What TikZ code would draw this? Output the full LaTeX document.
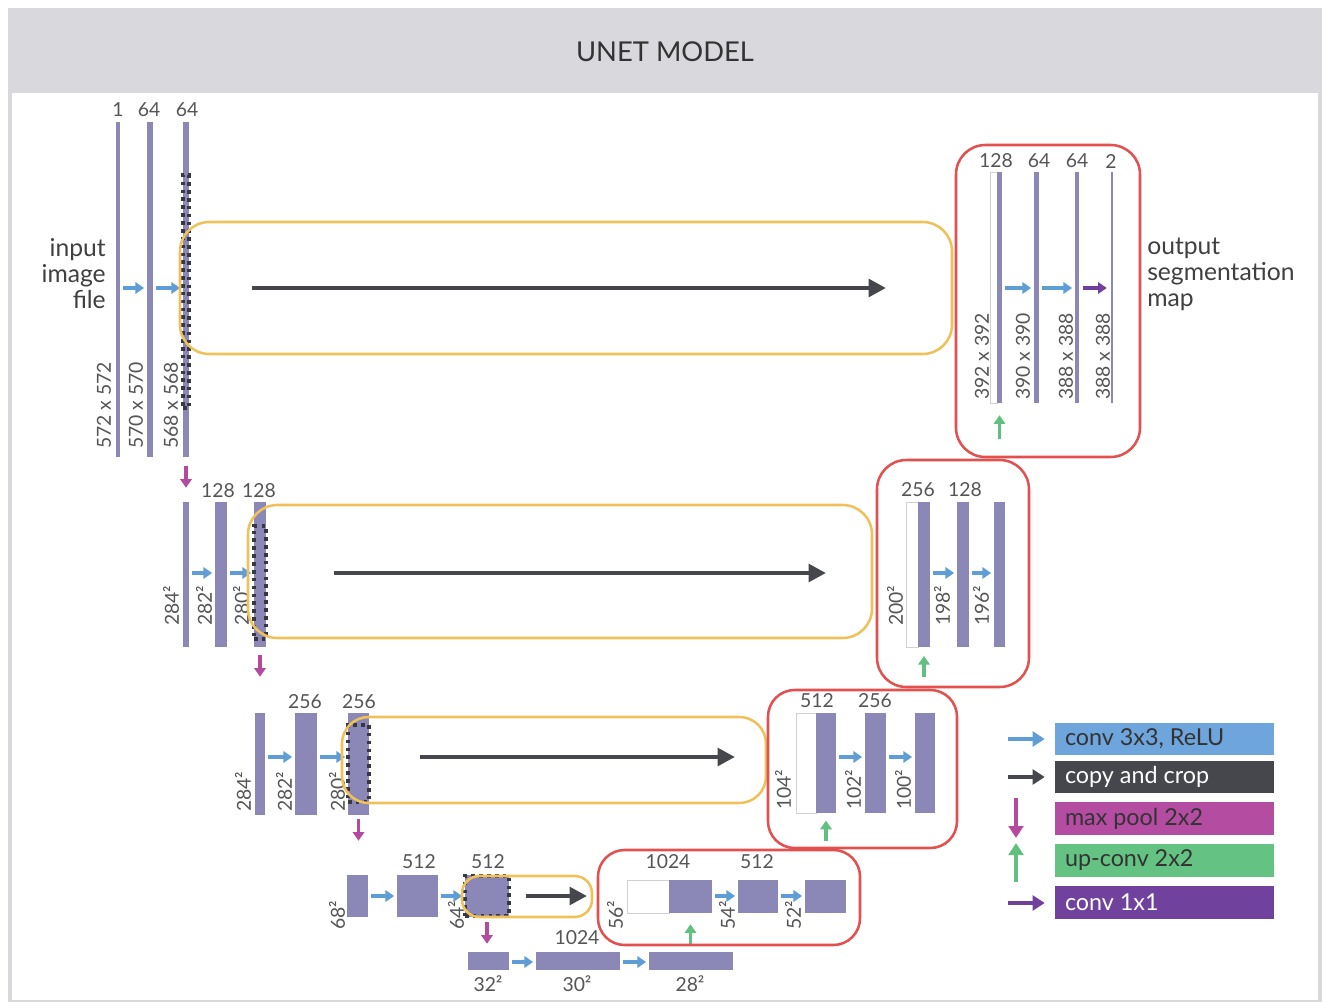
\documentclass[tikz,border=0pt]{standalone}
\usepackage{fontspec}
\setmainfont{Lato}
\usetikzlibrary{arrows.meta,fit,calc}
\definecolor{barc}{RGB}{139,136,184}
\definecolor{convc}{RGB}{95,157,214}
\definecolor{copyc}{RGB}{70,71,77}
\definecolor{poolc}{RGB}{180,73,160}
\definecolor{upc}{RGB}{96,192,128}
\definecolor{onec}{RGB}{112,64,156}
\definecolor{yelc}{RGB}{240,193,90}
\definecolor{redc}{RGB}{226,80,80}
\definecolor{hdrc}{RGB}{216,216,221}
\definecolor{txtc}{RGB}{85,85,85}
\definecolor{lgblue}{RGB}{110,165,220}
\definecolor{lgdark}{RGB}{70,71,76}
\definecolor{lgpink}{RGB}{180,76,162}
\definecolor{lggreen}{RGB}{100,195,130}
\definecolor{lgpurple}{RGB}{112,66,158}
\definecolor{dotc}{RGB}{55,56,66}
\tikzset{
  blk/.style={fill=barc, draw=none, inner sep=0pt, rectangle},
  wblk/.style={fill=white, draw=black!18, line width=0.5pt, inner sep=0pt, rectangle},
  yb/.style={draw=yelc, line width=1.9pt, rounded corners=#1, inner sep=0pt, rectangle},
  rb/.style={draw=redc, line width=1.9pt, rounded corners=#1, inner sep=0pt, rectangle},
  dotbox/.style={draw=dotc, line width=2.7pt, dash pattern=on 2.7pt off 3.2pt, inner sep=0pt, rectangle},
  sarrow/.style={line width=2.6pt, -{Triangle[length=6.5pt,width=8.5pt]}},
  conv/.style={sarrow, draw=convc, shorten <=2pt, shorten >=2pt},
  onex/.style={sarrow, draw=onec, shorten <=3pt, shorten >=3pt},
  pool/.style={sarrow, draw=poolc},
  upconv/.style={sarrow, draw=upc},
  copyar/.style={draw=copyc, line width=3.4pt, -{Triangle[length=13pt,width=13pt]}},
  lgar/.style={line width=3.6pt, -{Triangle[length=9pt,width=11pt]}},
  lbl/.style={text=txtc, font=\fontsize{14.5}{16}\selectfont, inner sep=0pt},
  rl/.style={lbl, rotate=90, anchor=west},
  big/.style={text=black!75, font=\fontsize{18.5}{19.5}\selectfont, inner sep=0pt},
  title/.style={text=black!80, font=\fontsize{20.5}{22}\selectfont, inner sep=0pt},
  legbox/.style={draw=none, inner sep=0pt, rectangle},
  legtxt/.style={font=\fontsize{17.5}{18}\selectfont, inner sep=0pt, anchor=west}
}
\newcommand\Blk[5]{\node[blk, fit={(#2,#4) (#3,#5)}] (#1) {};}
\newcommand\Wblk[5]{\node[wblk, fit={(#2,#4) (#3,#5)}] (#1) {};}
\newcommand\Dots[5]{\node[dotbox, fit={(#2,#4) (#3,#5)}] (#1) {};}
\begin{document}
\begin{tikzpicture}[x=0.75pt,y=-0.75pt]
\path[use as bounding box] (0,0) rectangle (1322,1002);
\fill[white] (0,0) rectangle (1322,1002);
\fill[hdrc] (8,8) rectangle (1322,1002);
\fill[white] (12,93) rectangle (1318,1000);
\node[title] (title) at (665,52) {UNET MODEL};

% ---------------- Level 1 encoder
\Blk{e1a}{116}{120}{122}{457}
\Blk{e1b}{147}{153}{122}{457}
\Blk{e1c}{183}{189}{122}{457}
\node[lbl] (t1a) at (118,110) {1};
\node[lbl] (t1b) at (149,110) {64};
\node[lbl] (t1c) at (187,110) {64};
\node[rl] (s1a) at (104,449) {572 x 572};
\node[rl] (s1b) at (136,449) {570 x 570};
\node[rl] (s1c) at (171,449) {568 x 568};
\node[big, align=right, anchor=east] (inp) at (106,274) {input\\image\\file};
\coordinate (r1) at (0,288);
\draw[conv] (e1a.east |- r1) -- (e1b.west |- r1);
\draw[conv] (e1b.east |- r1) -- (e1c.west |- r1);

% ---------------- Level 1 decoder
\Wblk{w1}{990}{997}{172}{403}
\Blk{d1a}{997}{1002}{172}{403}
\Blk{d1b}{1034}{1039}{172}{403}
\Blk{d1c}{1075}{1079}{172}{403}
\Blk{d1d}{1111}{1113}{172}{403}
\node[lbl] (u1a) at (996,161) {128};
\node[lbl] (u1b) at (1039,161) {64};
\node[lbl] (u1c) at (1077,161) {64};
\node[lbl] (u1d) at (1111,161) {2};
\node[rl] (v1a) at (982,400) {392 x 392};
\node[rl] (v1b) at (1023,400) {390 x 390};
\node[rl] (v1c) at (1066,400) {388 x 388};
\node[rl] (v1d) at (1103,400) {388 x 388};
\draw[conv] (d1a.east |- r1) -- (d1b.west |- r1);
\draw[conv] (d1b.east |- r1) -- (d1c.west |- r1);
\draw[onex] (d1c.east |- r1) -- (d1d.west |- r1);
\coordinate (g1) at ($(d1a.south)+(0,36)$);
\draw[upconv, shorten >=9pt] (g1) -- (d1a.south);
\node[big, align=left, anchor=west] (outp) at (1147,274) {output\\segmentation\\map};

% ---------------- Level 2 encoder
\Blk{e2a}{183}{189}{502}{647}
\Blk{e2b}{215}{227}{502}{647}
\Blk{e2c}{254}{266}{502}{647}
\node[lbl] (t2b) at (218,491) {128};
\node[lbl] (t2c) at (259,491) {128};
\node[rl] (s2a) at (171,626) {284²};
\node[rl] (s2b) at (204,626) {282²};
\node[rl] (s2c) at (241,626) {280²};
\coordinate (r2) at (0,573);
\draw[conv] (e2a.east |- r2) -- (e2b.west |- r2);
\draw[conv] (e2b.east |- r2) -- (e2c.west |- r2);
\draw[pool, shorten <=6.75pt, shorten >=10.5pt] (e1c.south) -- (e1c.south |- e2a.north);

% ---------------- Level 2 decoder
\Wblk{w2}{906}{918}{502}{647}
\Blk{d2a}{918}{930}{502}{647}
\Blk{d2b}{957}{969}{502}{647}
\Blk{d2c}{994}{1005}{502}{647}
\node[lbl] (u2a) at (918,490) {256};
\node[lbl] (u2b) at (965,490) {128};
\node[rl] (v2a) at (895,626) {200²};
\node[rl] (v2b) at (942,626) {198²};
\node[rl] (v2c) at (981,626) {196²};
\draw[conv] (d2a.east |- r2) -- (d2b.west |- r2);
\draw[conv] (d2b.east |- r2) -- (d2c.west |- r2);
\coordinate (g2) at ($(d2a.south)+(0,30)$);
\draw[upconv, shorten >=6.5pt] (g2) -- (d2a.south);

% ---------------- Level 3 encoder
\Blk{e3a}{255}{265}{713}{815}
\Blk{e3b}{295}{317}{713}{815}
\Blk{e3c}{348}{369}{713}{815}
\node[lbl] (t3b) at (305,702) {256};
\node[lbl] (t3c) at (359,702) {256};
\node[rl] (s3a) at (243,812) {284²};
\node[rl] (s3b) at (284,812) {282²};
\node[rl] (s3c) at (337,812) {280²};
\coordinate (r3) at (0,757);
\draw[conv] (e3a.east |- r3) -- (e3b.west |- r3);
\draw[conv] (e3b.east |- r3) -- (e3c.west |- r3);
\draw[pool, shorten <=6pt, shorten >=27pt] (e2c.south) -- (e2c.south |- e3a.north);

% ---------------- Level 3 decoder
\Wblk{w3}{796}{816}{713}{813}
\Blk{d3a}{816}{836}{713}{813}
\Blk{d3b}{865}{886}{713}{813}
\Blk{d3c}{915}{935}{713}{813}
\node[lbl] (u3a) at (817,701) {512};
\node[lbl] (u3b) at (875,701) {256};
\node[rl] (v3a) at (783,810) {104²};
\node[rl] (v3b) at (853,810) {102²};
\node[rl] (v3c) at (903,810) {100²};
\draw[conv] (d3a.east |- r3) -- (d3b.west |- r3);
\draw[conv] (d3b.east |- r3) -- (d3c.west |- r3);
\coordinate (g3) at ($(d3a.south)+(0,28)$);
\draw[upconv, shorten >=5.5pt] (g3) -- (d3a.south);

% ---------------- Level 4 encoder
\Blk{e4a}{347}{368}{875}{917}
\Blk{e4b}{397}{438}{875}{917}
\Blk{e4c}{465}{509}{875}{917}
\node[lbl] (t4b) at (419,862) {512};
\node[lbl] (t4c) at (488,862) {512};
\node[rl] (s4a) at (337,930) {68²};
\node[rl] (s4c) at (456,930) {64²};
\coordinate (r4) at (0,896);
\draw[conv] (e4a.east |- r4) -- (e4b.west |- r4);
\draw[conv] (e4b.east |- r4) -- (e4c.west |- r4);
\draw[pool, shorten <=3pt, shorten >=25.5pt] (e3c.south) -- (e3c.south |- e4a.north);

% ---------------- Level 4 decoder
\Wblk{w4}{627}{669}{880}{913}
\Blk{d4a}{669}{712}{880}{913}
\Blk{d4b}{738}{778}{880}{913}
\Blk{d4c}{805}{846}{880}{913}
\node[lbl] (u4a) at (668,862) {1024};
\node[lbl] (u4b) at (757,862) {512};
\node[rl] (v4a) at (615,930) {56²};
\node[rl] (v4b) at (727,930) {54²};
\node[rl] (v4c) at (793,930) {52²};
\draw[conv] (d4a.east |- r4) -- (d4b.west |- r4);
\draw[conv] (d4b.east |- r4) -- (d4c.west |- r4);

% ---------------- Level 5 (bottom)
\Blk{e5a}{468}{509}{952}{970}
\Blk{e5b}{536}{620}{952}{970}
\Blk{e5c}{649}{733}{952}{970}
\node[lbl] (t5b) at (577,938) {1024};
\node[lbl] (b5a) at (488,984) {32²};
\node[lbl] (b5b) at (577,984) {30²};
\node[lbl] (b5c) at (690,984) {28²};
\coordinate (r5) at (0,962);
\draw[conv] (e5a.east |- r5) -- (e5b.west |- r5);
\draw[conv] (e5b.east |- r5) -- (e5c.west |- r5);
\draw[pool, shorten <=3.75pt, shorten >=6pt] (e4c.south) -- (e4c.south |- e5a.north);
\draw[upconv, shorten <=6pt, shorten >=8.25pt] (d4a.south |- e5c.north) -- (d4a.south);

% ---------------- dotted crop outlines
\Dots{dt1}{183}{189}{175}{408}
\Dots{dt2}{254}{266}{526}{639}
\Dots{dt3}{348}{369}{725}{802}
\Dots{dt4}{465}{509}{876}{916}

% ---------------- copy-and-crop boxes
\node[yb=22pt, fit={(180,222) (952,354)}] (y1) {};
\node[yb=22pt, fit={(248,505) (872,638)}] (y2) {};
\node[yb=20pt, fit={(342,717) (766,803)}] (y3) {};
\node[yb=13pt, fit={(462,876) (592,917)}] (y4) {};
\coordinate (c1s) at (252,288); \coordinate (c1e) at (886,288);
\coordinate (c2s) at (334,573); \coordinate (c2e) at (826,573);
\coordinate (c3s) at (420,757); \coordinate (c3e) at (735,757);
\coordinate (c4s) at (526,896); \coordinate (c4e) at (587,896);
\draw[copyar] (c1s) -- (c1e);
\draw[copyar] (c2s) -- (c2e);
\draw[copyar] (c3s) -- (c3e);
\draw[copyar] (c4s) -- (c4e);

% ---------------- decoder boxes
\node[rb=22pt, fit={(956,145) (1140,457)}] (rb1) {};
\node[rb=22pt, fit={(877,460) (1029,687)}] (rb2) {};
\node[rb=20pt, fit={(768,690) (957,848)}] (rb3) {};
\node[rb=20pt, fit={(598,850) (860,945)}] (rb4) {};

% ---------------- legend
\node[legbox, fill=lgblue, fit={(1055,723) (1274,755)}] (lg1) {};
\node[legbox, fill=lgdark, fit={(1055,761) (1274,793)}] (lg2) {};
\node[legbox, fill=lgpink, fit={(1055,802) (1274,835)}] (lg3) {};
\node[legbox, fill=lggreen, fit={(1055,844) (1274,877)}] (lg4) {};
\node[legbox, fill=lgpurple, fit={(1055,886) (1274,919)}] (lg5) {};
\node[legtxt, text=black!80] (lt1) at ($(lg1.west)+(10,0)$) {conv 3x3, ReLU};
\node[legtxt, text=white] (lt2) at ($(lg2.west)+(10,0)$) {copy and crop};
\node[legtxt, text=black!80] (lt3) at ($(lg3.west)+(10,0)$) {max pool 2x2};
\node[legtxt, text=black!80] (lt4) at ($(lg4.west)+(10,0)$) {up-conv 2x2};
\node[legtxt, text=white] (lt5) at ($(lg5.west)+(10,0)$) {conv 1x1};
\coordinate (la1) at (1008,739);
\coordinate (la2) at (1008,777);
\coordinate (la3) at (1016,798);
\coordinate (la4) at (1016,882);
\coordinate (la5) at (1008,903);
\draw[lgar, draw=convc, shorten >=7.5pt] (la1) -- (la1 -| lg1.west);
\draw[lgar, draw=copyc, shorten >=7.5pt] (la2) -- (la2 -| lg2.west);
\draw[lgar, draw=poolc] (la3) -- ++(0,40);
\draw[lgar, draw=upc] (la4) -- ++(0,-39);
\draw[lgar, draw=onec, shorten >=7.5pt] (la5) -- (la5 -| lg5.west);
\end{tikzpicture}
\end{document}
